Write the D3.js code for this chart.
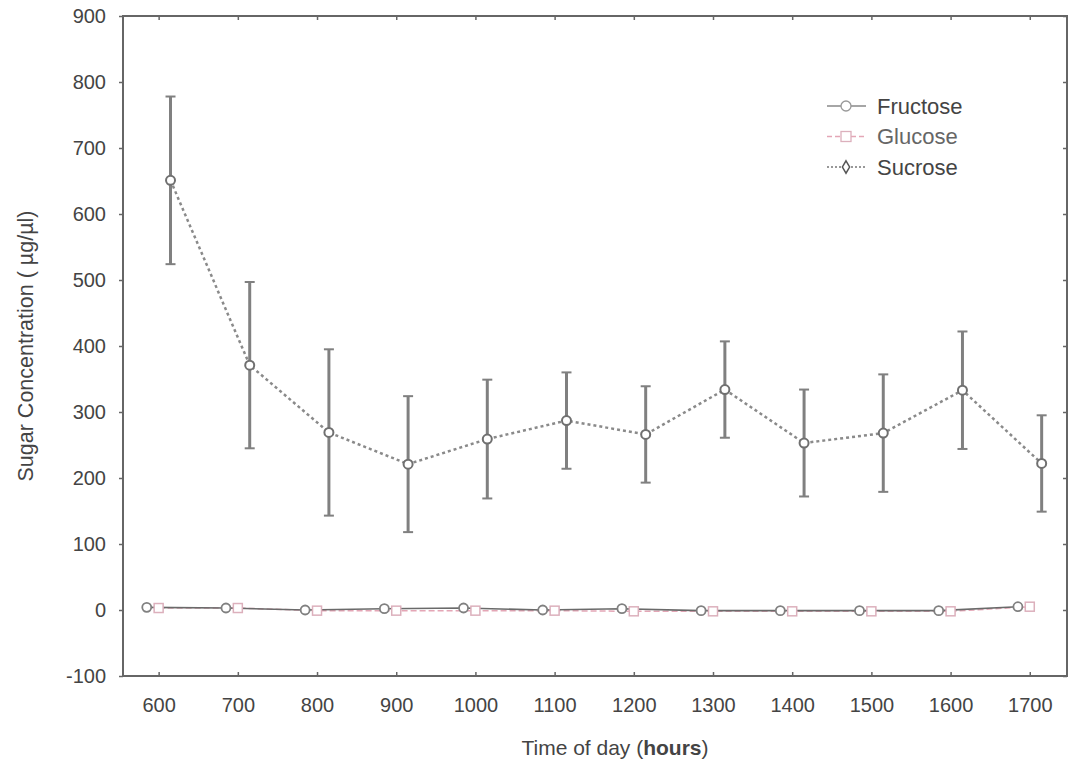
<!DOCTYPE html>
<html><head><meta charset="utf-8">
<script src="https://cdn.jsdelivr.net/npm/d3@7"></script>
<style>body{margin:0;background:#fff}</style></head>
<body>
<svg id="c" width="1069" height="765"></svg>
<script>
const hours = [600,700,800,900,1000,1100,1200,1300,1400,1500,1600,1700];
const fructose = [4,3,0,2,3,0,2,-1,-1,-1,-1,5];
const glucose = [3,3,-1,-1,-1,-1,-2,-2,-2,-2,-2,5];
const sucrose = [651,371,269,221,259,287,266,334,253,268,333,222];
const sucroseErr = [127,126,126,103,90,73,73,73,81,89,89,73];
const yTicks = [-100,0,100,200,300,400,500,600,700,800,900];
const seriesNames = ["Fructose","Glucose","Sucrose"];

const svg = d3.select("#c");
const L=123, R=1067, T=16, B=676;
const x = d3.scaleLinear().domain([555,1747]).range([L,R]);
const y = d3.scaleLinear().domain([-100,900]).range([B,T]);
const font = "'Liberation Sans', Arial, sans-serif";
const axisCol = "#666";
const fmt = d => String(d);

// frame
svg.append("rect").attr("x",L).attr("y",T).attr("width",R-L).attr("height",B-T)
  .attr("fill","none").attr("stroke",axisCol).attr("stroke-width",2);

// ticks
const gL = svg.append("g").attr("transform",`translate(${L},0)`)
  .call(d3.axisLeft(y).tickValues(yTicks).tickSize(4).tickPadding(13).tickFormat(fmt));
const gR = svg.append("g").attr("transform",`translate(${R},0)`)
  .call(d3.axisLeft(y).tickValues(yTicks).tickSize(4).tickFormat(""));
const gB = svg.append("g").attr("transform",`translate(0,${B})`)
  .call(d3.axisBottom(x).tickValues(hours).tickSize(-4).tickPadding(22).tickFormat(fmt));
const gT = svg.append("g").attr("transform",`translate(0,${T})`)
  .call(d3.axisBottom(x).tickValues(hours).tickSize(4).tickFormat(""));
[gL,gR,gB,gT].forEach(g=>{
  g.select(".domain").remove();
  g.selectAll(".tick line").attr("stroke",axisCol).attr("stroke-width",1.5);
  g.selectAll("text").attr("font-family",font).attr("font-size",20).attr("fill","#444");
});

// axis titles
svg.append("text").attr("x",(L+R)/2+20).attr("y",755).attr("text-anchor","middle")
  .attr("font-family",font).attr("font-size",21).attr("fill","#444")
  .html('Time of day (<tspan font-weight="bold">hours</tspan>)');
svg.append("text").attr("transform","translate(33,346) rotate(-90)").attr("text-anchor","middle")
  .attr("font-family",font).attr("font-size",21.5).attr("fill","#444")
  .text("Sugar Concentration  ( µg/µl)");

const off = {Fructose:-15, Glucose:0, Sucrose:15};
const mk = (vals,name)=>hours.map((h,i)=>({x:h+off[name], y:vals[i], e: name==="Sucrose"?sucroseErr[i]:0}));
const dF = mk(fructose,"Fructose"), dG = mk(glucose,"Glucose"), dS = mk(sucrose,"Sucrose");
const line = d3.line().x(d=>x(d.x)).y(d=>y(d.y));

// error bars for sucrose
const eb = svg.append("g").attr("stroke","#808080");
eb.selectAll("line.v").data(dS).join("line").attr("class","v")
  .attr("x1",d=>x(d.x)).attr("x2",d=>x(d.x)).attr("y1",d=>y(d.y+d.e)).attr("y2",d=>y(d.y-d.e))
  .attr("stroke-width",3);
eb.selectAll("line.t").data(dS).join("line").attr("class","t")
  .attr("x1",d=>x(d.x)-5).attr("x2",d=>x(d.x)+5).attr("y1",d=>y(d.y+d.e)).attr("y2",d=>y(d.y+d.e))
  .attr("stroke-width",2);
eb.selectAll("line.b").data(dS).join("line").attr("class","b")
  .attr("x1",d=>x(d.x)-5).attr("x2",d=>x(d.x)+5).attr("y1",d=>y(d.y-d.e)).attr("y2",d=>y(d.y-d.e))
  .attr("stroke-width",2);

// lines
svg.append("path").datum(dG).attr("d",line).attr("fill","none").attr("stroke","#e4a6b6")
  .attr("stroke-width",1.5).attr("stroke-dasharray","6,3");
svg.append("path").datum(dF).attr("d",line).attr("fill","none").attr("stroke","#6a6a6a")
  .attr("stroke-width",1.6);
svg.append("path").datum(dS).attr("d",line).attr("fill","none").attr("stroke","#8a8a8a")
  .attr("stroke-width",2.5).attr("stroke-dasharray","3,3");

// markers
svg.append("g").selectAll("rect").data(dG).join("rect")
  .attr("x",d=>x(d.x)-4.5).attr("y",d=>y(d.y)-4.5).attr("width",9).attr("height",9)
  .attr("fill","#fff").attr("stroke","#dcb0bc").attr("stroke-width",1.5);
svg.append("g").selectAll("circle").data(dF).join("circle")
  .attr("cx",d=>x(d.x)).attr("cy",d=>y(d.y)).attr("r",4.5)
  .attr("fill","#fff").attr("stroke","#808080").attr("stroke-width",1.8);
svg.append("g").selectAll("circle").data(dS).join("circle")
  .attr("cx",d=>x(d.x)).attr("cy",d=>y(d.y)).attr("r",4.5)
  .attr("fill","#fff").attr("stroke","#707070").attr("stroke-width",2);

// legend
const leg = svg.append("g");
const legStyle = {
  Fructose:{stroke:"#888", dash:null, textCol:"#444"},
  Glucose:{stroke:"#e4a6b6", dash:"5,3", textCol:"#666"},
  Sucrose:{stroke:"#777", dash:"2,2", textCol:"#444"}
};
seriesNames.forEach((n,i)=>{
  const yy = 106 + i*30.5, s = legStyle[n];
  leg.append("line").attr("x1",827).attr("x2",866).attr("y1",yy).attr("y2",yy)
    .attr("stroke",s.stroke).attr("stroke-width",1.3).attr("stroke-dasharray",s.dash);
  if(n==="Fructose") leg.append("circle").attr("cx",846).attr("cy",yy).attr("r",5)
    .attr("fill","#fff").attr("stroke","#999").attr("stroke-width",1.3);
  if(n==="Glucose") leg.append("rect").attr("x",841).attr("y",yy-5).attr("width",10).attr("height",10)
    .attr("fill","#fff").attr("stroke","#dcb0bc").attr("stroke-width",1.3);
  if(n==="Sucrose") leg.append("path").attr("transform",`translate(846,${yy})`)
    .attr("d",d3.symbol(d3.symbolDiamond,45)()).attr("fill","#fff").attr("stroke","#555").attr("stroke-width",1.5);
  leg.append("text").attr("x",877).attr("y",yy).attr("dy","0.36em")
    .attr("font-family",font).attr("font-size",22).attr("fill",s.textCol).text(n);
});
</script>
</body></html>
